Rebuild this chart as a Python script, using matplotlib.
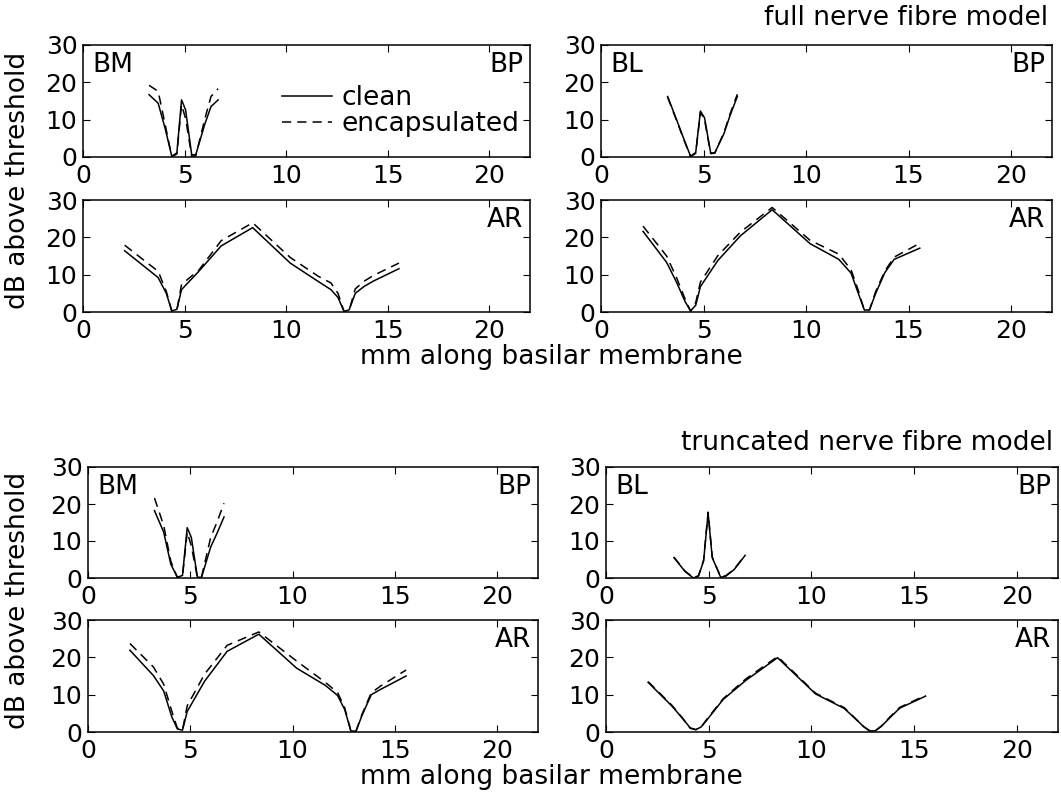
import matplotlib
matplotlib.use("Agg")
from matplotlib import pyplot as plt

plt.rcParams['font.family'] = ['DejaVu Sans']

# positions along the basilar membrane (mm)
x_bp = [3.25, 3.7, 4.05, 4.37, 4.62, 4.85, 5.05, 5.35, 5.55, 6.0, 6.3, 6.65]
x_bl_trunc = [3.31, 3.84, 4.25, 4.5, 4.75, 4.97, 5.17, 5.58, 5.83, 6.24, 6.77]
x_ar = [2.05, 3.2, 3.7, 4.1, 4.37, 4.62, 4.85, 5.7, 6.8, 8.35, 10.2, 11.6,
        12.2, 12.55, 12.85, 13.1, 13.4, 13.85, 14.3, 15.55]

# ---- full nerve fibre model ----
full_bm_clean = [16.7, 14.4, 7.5, 0.2, 1.1, 15.3, 12.6, 0.6, 0.6, 8.9, 13.5, 15.3]
full_bm_encap = [19.2, 17.6, 8.5, 0.1, 0.8, 14.0, 10.3, 0.2, 0.3, 10.3, 16.2, 18.3]
full_bl_clean = [16.2, 9.8, 4.7, 0.2, 1.2, 12.3, 10.5, 1.1, 1.1, 6.3, 11.2, 16.2]
full_bl_encap = [16.0, 9.6, 4.5, 0.1, 1.0, 12.0, 10.0, 0.9, 1.0, 6.6, 11.6, 16.8]
full_arl_clean = [16.4, 11.4, 9.2, 5.0, 0.3, 0.7, 6.0, 10.9, 17.7, 22.6, 13.1, 8.1,
                  6.0, 3.9, 0.1, 0.6, 5.0, 6.9, 8.3, 11.6]
full_arl_encap = [17.9, 13.0, 10.9, 5.5, 0.2, 0.5, 7.4, 11.2, 19.1, 23.9, 14.6, 9.5,
                  7.8, 5.0, 0.1, 0.5, 6.2, 8.3, 9.8, 13.1]
full_arr_clean = [21.6, 13.3, 7.8, 2.8, 0.3, 1.8, 6.8, 13.8, 20.4, 27.4, 18.3, 14.1,
                  10.4, 5.0, 0.5, 0.6, 5.0, 10.6, 14.1, 17.1]
full_arr_encap = [23.0, 15.0, 9.0, 3.5, 0.2, 2.5, 8.0, 15.1, 21.4, 28.0, 19.2, 15.5,
                  11.3, 5.8, 0.4, 0.6, 5.5, 11.0, 14.7, 18.4]

# ---- truncated nerve fibre model ----
trunc_bm_clean = [18.2, 12.4, 3.7, 0.2, 0.7, 13.6, 11.0, 0.2, 0.2, 8.4, 12.0, 16.5]
trunc_bm_encap = [21.6, 14.2, 4.5, 0.1, 0.5, 12.4, 8.7, 0.1, 0.3, 11.0, 15.0, 20.2]
trunc_bl_clean = [5.5, 1.8, 0.0, 0.5, 4.6, 17.6, 5.5, 0.2, 0.5, 2.3, 6.1]
trunc_bl_encap = [5.6, 1.9, 0.1, 0.6, 4.8, 17.8, 5.7, 0.3, 0.6, 2.4, 6.2]
trunc_arl_clean = [21.9, 15.1, 11.0, 4.0, 0.8, 0.5, 5.5, 13.6, 21.6, 26.2, 17.1, 12.5,
                   9.8, 6.0, 0.3, 0.2, 4.5, 10.0, 11.4, 15.0]
trunc_arl_encap = [23.7, 17.4, 12.8, 5.5, 1.0, 0.5, 7.0, 15.5, 23.2, 26.8, 19.0, 13.3,
                   10.6, 6.5, 0.3, 0.2, 4.8, 10.5, 12.3, 16.6]
trunc_arr_clean = [13.3, 7.0, 3.8, 1.1, 0.65, 1.3, 2.8, 8.7, 13.8, 19.9, 10.2, 6.3,
                   3.2, 1.4, 0.3, 0.3, 1.5, 4.0, 6.4, 9.6]
trunc_arr_encap = [13.5, 7.2, 3.9, 1.0, 0.6, 1.2, 3.0, 8.9, 14.2, 20.2, 10.4, 6.5,
                   3.3, 1.4, 0.2, 0.3, 1.6, 4.2, 6.6, 9.8]

W, H = 1061, 798
fig = plt.figure(figsize=(W / 100, H / 100), dpi=100)

TICK_FS = 18
TEXT_FS = 19


def panel(left, top, right, bottom, x, clean, encap, tl=None, tr=None):
    ax = fig.add_axes([left / W, 1 - bottom / H, (right - left) / W, (bottom - top) / H])
    ax.plot(x, clean, color='black', lw=1.1, label='clean')
    ax.plot(x, encap, color='black', lw=1.1, dashes=(6, 4), label='encapsulated')
    ax.set_xlim(0, 22)
    ax.set_ylim(0, 30)
    ax.set_xticks([0, 5, 10, 15, 20])
    ax.set_yticks([0, 10, 20, 30])
    ax.tick_params(direction='in', top=True, right=True, length=5, width=0.8,
                   labelsize=TICK_FS)
    ax.tick_params(axis='x', pad=5)
    ax.tick_params(axis='y', pad=4)
    for s in ax.spines.values():
        s.set_linewidth(1.1)
    if tl:
        ax.text(0.02, 0.94, tl, transform=ax.transAxes, ha='left', va='top', fontsize=TEXT_FS)
    if tr:
        ax.text(0.985, 0.94, tr, transform=ax.transAxes, ha='right', va='top', fontsize=TEXT_FS)
    return ax


# full model
ax_leg = panel(83, 45, 530, 157, x_bp, full_bm_clean, full_bm_encap, 'BM', 'BP')
panel(601, 45, 1052, 157, x_bp, full_bl_clean, full_bl_encap, 'BL', 'BP')
panel(83, 200, 530, 312, x_ar, full_arl_clean, full_arl_encap, None, 'AR')
panel(601, 200, 1052, 312, x_ar, full_arr_clean, full_arr_encap, None, 'AR')

ax_leg.legend(loc='upper left', bbox_to_anchor=(0.41, 0.78), frameon=False,
              fontsize=TEXT_FS, handlelength=1.9, handletextpad=0.35,
              labelspacing=0.0, borderpad=0.1)

# truncated model
panel(88, 467, 538, 578, x_bp, trunc_bm_clean, trunc_bm_encap, 'BM', 'BP')
panel(606, 467, 1058, 578, x_bl_trunc, trunc_bl_clean, trunc_bl_encap, 'BL', 'BP')
panel(88, 620, 538, 732, x_ar, trunc_arl_clean, trunc_arl_encap, None, 'AR')
panel(606, 620, 1058, 732, x_ar, trunc_arr_clean, trunc_arr_encap, None, 'AR')

fig.text(1048 / W, 1 - 18 / H, 'full nerve fibre model', ha='right', va='center', fontsize=TEXT_FS)
fig.text(1053 / W, 1 - 443 / H, 'truncated nerve fibre model', ha='right', va='center', fontsize=TEXT_FS)

fig.text(18 / W, 1 - 180 / H, 'dB above threshold', rotation=90, ha='center', va='center', fontsize=TEXT_FS)
fig.text(18 / W, 1 - 600 / H, 'dB above threshold', rotation=90, ha='center', va='center', fontsize=TEXT_FS)
fig.text(551 / W, 1 - 357 / H, 'mm along basilar membrane', ha='center', va='center', fontsize=TEXT_FS)
fig.text(551 / W, 1 - 777 / H, 'mm along basilar membrane', ha='center', va='center', fontsize=TEXT_FS)

fig.savefig('out.png', dpi=100)
